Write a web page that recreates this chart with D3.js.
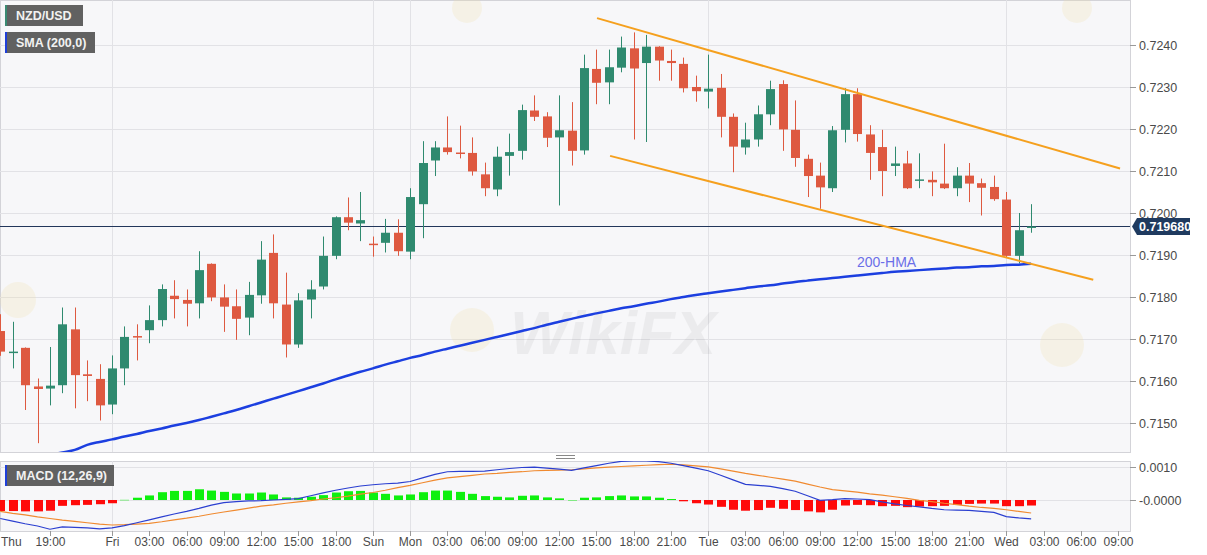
<!DOCTYPE html>
<html>
<head>
<meta charset="utf-8">
<script src="https://cdn.jsdelivr.net/npm/d3@7"></script>
<style>
  body { margin: 0; background: #fff; }
  svg { display: block; font-family: "Liberation Sans", Arial, sans-serif; }
</style>
</head>
<body>
<svg id="chart" width="1207" height="555"></svg>
<script>
// NZD/USD HOURLY CANDLES, 200 SMA, CHANNEL AND MACD

// bar index: 0 = Fri 00:00, negatives are Thu afternoon
var firstIdx = -9;

var opens = [0.71719,0.71668,0.71679,0.71587,0.71582,0.71590,0.71723,0.71616,0.71605,
  0.71544,0.71630,0.71707,0.71721,0.71745,0.71803,0.71793,0.71785,0.71879,0.71799,0.71778,
  0.71751,0.71804,0.71905,0.71782,0.71687,0.71794,0.71825,0.71898,0.71990,0.71975,0.71927,
  0.71929,0.71953,0.71908,0.72021,0.72125,0.72156,0.72144,0.72143,0.72092,0.72056,0.72136,
  0.72148,0.72244,0.72230,0.72180,0.72196,0.72149,0.72343,0.72311,0.72346,0.72392,0.72357,
  0.72396,0.72362,0.72355,0.72300,0.72289,0.72298,0.72229,0.72156,0.72175,0.72235,0.72307,
  0.72198,0.72129,0.72089,0.72059,0.72198,0.72283,0.72187,0.72157,0.72112,0.72118,0.72078,
  0.72079,0.72070,0.72059,0.72089,0.72071,0.72062,0.72032,0.71898,0.71965];
var highs = [0.71759,0.71741,0.71680,0.71606,0.71681,0.71775,0.71775,0.71649,0.71640,
  0.71661,0.71730,0.71735,0.71780,0.71830,0.71840,0.71818,0.71909,0.71880,0.71830,0.71818,
  0.71836,0.71933,0.71949,0.71858,0.71809,0.71840,0.71944,0.71992,0.72037,0.72050,0.71944,
  0.71986,0.71985,0.72059,0.72171,0.72171,0.72230,0.72208,0.72180,0.72120,0.72158,0.72189,
  0.72258,0.72280,0.72240,0.72280,0.72264,0.72377,0.72389,0.72389,0.72420,0.72430,0.72424,
  0.72397,0.72389,0.72370,0.72327,0.72377,0.72331,0.72237,0.72215,0.72256,0.72315,0.72316,
  0.72268,0.72139,0.72120,0.72207,0.72297,0.72297,0.72209,0.72198,0.72158,0.72148,0.72142,
  0.72099,0.72165,0.72109,0.72119,0.72082,0.72089,0.72050,0.72000,0.72021];
var lows = [0.71660,0.71630,0.71531,0.71452,0.71542,0.71571,0.71535,0.71552,0.71506,
  0.71521,0.71590,0.71649,0.71690,0.71730,0.71749,0.71730,0.71749,0.71790,0.71717,0.71698,
  0.71709,0.71784,0.71749,0.71656,0.71679,0.71749,0.71818,0.71890,0.71959,0.71933,0.71896,
  0.71906,0.71898,0.71890,0.71940,0.72088,0.72139,0.72130,0.72089,0.72040,0.72040,0.72089,
  0.72127,0.72219,0.72157,0.72018,0.72113,0.72139,0.72259,0.72259,0.72335,0.72175,0.72169,
  0.72315,0.72315,0.72287,0.72265,0.72249,0.72180,0.72097,0.72139,0.72158,0.72209,0.72148,
  0.72110,0.72038,0.72010,0.72050,0.72168,0.72170,0.72079,0.72040,0.72088,0.72057,0.72059,
  0.72040,0.72057,0.72040,0.72026,0.71994,0.72029,0.71894,0.71880,0.71953];
var closes = [0.71670,0.71670,0.71590,0.71581,0.71589,0.71735,0.71614,0.71612,0.71542,
  0.71630,0.71705,0.71705,0.71745,0.71819,0.71795,0.71784,0.71864,0.71799,0.71777,0.71748,
  0.71805,0.71889,0.71785,0.71687,0.71792,0.71818,0.71898,0.71990,0.71977,0.71983,0.71925,
  0.71953,0.71909,0.72038,0.72119,0.72156,0.72145,0.72142,0.72099,0.72059,0.72134,0.72145,
  0.72245,0.72229,0.72179,0.72197,0.72148,0.72345,0.72310,0.72347,0.72394,0.72344,0.72396,
  0.72363,0.72357,0.72297,0.72290,0.72296,0.72229,0.72158,0.72175,0.72235,0.72295,0.72199,
  0.72131,0.72088,0.72061,0.72197,0.72283,0.72188,0.72143,0.72100,0.72118,0.72059,0.72080,
  0.72073,0.72059,0.72089,0.72070,0.72060,0.72033,0.71898,0.71959,0.71968];

// 200 SMA (labelled 200-HMA on the chart)
var sma200 = [0.71400,0.71406,0.71412,0.71418,0.71424,0.71430,0.71436,0.71448,0.71455,
  0.71461,0.71468,0.71474,0.71481,0.71487,0.71494,0.71500,0.71507,0.71515,0.71523,0.71531,
  0.71540,0.71549,0.71558,0.71567,0.71576,0.71585,0.71594,0.71604,0.71613,0.71622,0.71630,
  0.71639,0.71647,0.71655,0.71662,0.71670,0.71677,0.71684,0.71691,0.71698,0.71705,0.71712,
  0.71719,0.71726,0.71734,0.71741,0.71748,0.71755,0.71761,0.71767,0.71773,0.71778,0.71784,
  0.71789,0.71795,0.71800,0.71805,0.71809,0.71813,0.71817,0.71821,0.71825,0.71828,0.71832,
  0.71836,0.71839,0.71842,0.71845,0.71848,0.71851,0.71854,0.71857,0.71860,0.71862,0.71864,
  0.71866,0.71868,0.71870,0.71871,0.71873,0.71874,0.71876,0.71877,0.71879];

// MACD (12,26,9)
var macdLine = [-0.00057,-0.00065,-0.00073,-0.00080,-0.00090,-0.00083,-0.00084,-0.00086,-0.00089,
  -0.00086,-0.00079,-0.00070,-0.00061,-0.00052,-0.00043,-0.00035,-0.00026,-0.00016,-0.00008,-0.00005,
  -0.00003,-0.00002,0.00000,0.00002,0.00004,0.00013,0.00022,0.00030,0.00037,0.00043,0.00047,
  0.00050,0.00052,0.00057,0.00068,0.00079,0.00087,0.00088,0.00088,0.00089,0.00093,0.00097,
  0.00100,0.00101,0.00098,0.00095,0.00091,0.00099,0.00106,0.00113,0.00119,0.00120,0.00120,
  0.00118,0.00113,0.00106,0.00098,0.00090,0.00076,0.00062,0.00048,0.00045,0.00042,0.00035,
  0.00027,0.00013,-0.00001,0.00001,0.00004,0.00003,0.00001,-0.00006,-0.00012,-0.00017,-0.00021,
  -0.00026,-0.00030,-0.00031,-0.00032,-0.00035,-0.00038,-0.00051,-0.00055,-0.00058];
var signalLine = [-0.00035,-0.00041,-0.00046,-0.00052,-0.00057,-0.00062,-0.00066,-0.00070,-0.00074,
  -0.00077,-0.00076,-0.00074,-0.00072,-0.00067,-0.00061,-0.00056,-0.00050,-0.00043,-0.00037,-0.00031,
  -0.00025,-0.00019,-0.00015,-0.00010,-0.00006,-0.00002,0.00003,0.00007,0.00012,0.00018,0.00023,
  0.00030,0.00038,0.00045,0.00053,0.00061,0.00068,0.00072,0.00076,0.00080,0.00082,0.00085,
  0.00087,0.00090,0.00091,0.00092,0.00093,0.00096,0.00099,0.00101,0.00103,0.00105,0.00107,
  0.00109,0.00110,0.00108,0.00105,0.00102,0.00096,0.00089,0.00082,0.00076,0.00070,0.00064,
  0.00058,0.00049,0.00040,0.00032,0.00028,0.00024,0.00019,0.00015,0.00010,0.00005,-0.00001,
  -0.00005,-0.00010,-0.00014,-0.00019,-0.00023,-0.00026,-0.00030,-0.00035,-0.00040];
var macdHist = [-0.00034,-0.00034,-0.00035,-0.00035,-0.00033,-0.00018,-0.00016,-0.00015,-0.00013,
  -0.00010,0.00001,0.00007,0.00014,0.00024,0.00028,0.00028,0.00033,0.00029,0.00025,0.00020,
  0.00020,0.00023,0.00017,0.00008,0.00007,0.00010,0.00015,0.00023,0.00027,0.00028,0.00023,
  0.00019,0.00014,0.00017,0.00024,0.00029,0.00029,0.00025,0.00019,0.00012,0.00010,0.00008,
  0.00013,0.00014,0.00008,0.00005,0.00000,0.00007,0.00008,0.00012,0.00014,0.00011,0.00011,
  0.00007,0.00003,-0.00004,-0.00010,-0.00014,-0.00021,-0.00030,-0.00033,-0.00031,-0.00024,-0.00027,
  -0.00031,-0.00035,-0.00038,-0.00030,-0.00017,-0.00015,-0.00016,-0.00019,-0.00018,-0.00022,-0.00020,
  -0.00019,-0.00018,-0.00015,-0.00012,-0.00011,-0.00011,-0.00019,-0.00019,-0.00017];

var lastPrice = 0.71968;

// falling channel, [bar index, price]
var channelUpper = [[39.05, 0.72464], [81.16, 0.72106]];
var channelLower = [[40.1, 0.72136], [79.0, 0.71841]];

// axis ticks
var priceTicks = [0.7150,0.7160,0.7170,0.7180,0.7190,0.7200,0.7210,0.7220,0.7230,0.7240];
var macdTicks = [0, 0.0010];
var timeIdx = [-9,-5,0,3,6,9,12,15,18,21,24,27,30,33,36,39,42,45,48,51,54,57,60,63,66,69,72,75,78,81];
var timeLbl = ["Thu","19:00","Fri","03:00","06:00","09:00","12:00","15:00","18:00","Sun","Mon",
  "03:00","06:00","09:00","12:00","15:00","18:00","21:00","Tue","03:00","06:00","09:00","12:00",
  "15:00","18:00","21:00","Wed","03:00","06:00","09:00"];
var dayIdx = [0, 21, 24, 48, 72];

// LAYOUT
var plotR = 1130;
var mainTop = 0, mainBot = 452;
var macdTop = 461, macdBot = 531;

var bars = opens.map(function(o, i) {
  return {idx: firstIdx + i, o: o, h: highs[i], l: lows[i], c: closes[i],
          sma: sma200[i], macd: macdLine[i], sig: signalLine[i], hist: macdHist[i]};
});

var x = d3.scaleLinear().domain([-9.02, 81.96]).range([0, plotR]);
var y = d3.scaleLinear().domain([0.71431, 0.725071]).range([mainBot, mainTop]);
var ym = d3.scaleLinear().domain([-0.000954, 0.0012]).range([macdBot, macdTop]);

var svg = d3.select("#chart");

var defs = svg.append("defs");
defs.append("clipPath").attr("id", "clipMain")
  .append("rect").attr("x", 0).attr("y", mainTop).attr("width", plotR).attr("height", mainBot - mainTop);
defs.append("clipPath").attr("id", "clipMacd")
  .append("rect").attr("x", 0).attr("y", macdTop).attr("width", plotR).attr("height", macdBot - macdTop);

// panel backgrounds
svg.append("rect").attr("x", 0.5).attr("y", mainTop + 0.5).attr("width", plotR).attr("height", mainBot - mainTop)
  .attr("fill", "#f7f7f9").attr("stroke", "#d3d3d8");
svg.append("rect").attr("x", 0.5).attr("y", macdTop + 0.5).attr("width", plotR).attr("height", macdBot - macdTop)
  .attr("fill", "#f7f7f9").attr("stroke", "#d3d3d8");

// GRID
var grid = svg.append("g").attr("stroke", "#e2e2e6").attr("stroke-width", 1);
grid.selectAll(".hg").data(priceTicks).enter().append("line")
  .attr("x1", 0).attr("x2", plotR)
  .attr("y1", function(d) { return Math.round(y(d)) + 0.5; })
  .attr("y2", function(d) { return Math.round(y(d)) + 0.5; });
grid.selectAll(".mg").data(macdTicks).enter().append("line")
  .attr("x1", 0).attr("x2", plotR)
  .attr("y1", function(d) { return Math.round(ym(d)) + 0.5; })
  .attr("y2", function(d) { return Math.round(ym(d)) + 0.5; });
dayIdx.forEach(function(d) {
  var xx = Math.round(x(d)) + 0.5;
  grid.append("line").attr("x1", xx).attr("x2", xx).attr("y1", mainTop).attr("y2", mainBot);
  grid.append("line").attr("x1", xx).attr("x2", xx).attr("y1", macdTop).attr("y2", macdBot);
});

// WATERMARKS (faint logos + one word mark)
var wm = svg.append("g").attr("clip-path", "url(#clipMain)").attr("pointer-events", "none");
[[450, 330, 44], [1040, 345, 44], [452, 8, 30], [1062, 8, 30], [0, 300, 36]].forEach(function(p) {
  wm.append("circle").attr("cx", p[0] + p[2] / 2).attr("cy", p[1]).attr("r", p[2] / 2)
    .attr("fill", "#f3dfa6").attr("opacity", 0.22);
});
wm.append("text").attr("x", 510).attr("y", 354).text("WikiFX")
  .attr("font-size", 62).attr("font-weight", "bold").attr("font-style", "italic")
  .attr("fill", "#000").attr("opacity", 0.045);

// LAST PRICE LINE
svg.append("line").attr("x1", 0).attr("x2", plotR)
  .attr("y1", Math.round(y(lastPrice)) + 0.5).attr("y2", Math.round(y(lastPrice)) + 0.5)
  .attr("stroke", "#22365a").attr("stroke-width", 1);

// CANDLES
var candleW = 9;
var cg = svg.append("g").attr("clip-path", "url(#clipMain)");
var candle = cg.selectAll(".candle").data(bars).enter().append("g");
candle.append("line")
  .attr("x1", function(d) { return Math.round(x(d.idx)) + 0.5; })
  .attr("x2", function(d) { return Math.round(x(d.idx)) + 0.5; })
  .attr("y1", function(d) { return y(d.h); })
  .attr("y2", function(d) { return y(d.l); })
  .attr("stroke", function(d) { return d.c >= d.o ? "#2f8a6f" : "#de5940"; });
candle.append("rect")
  .attr("x", function(d) { return Math.round(x(d.idx)) + 0.5 - candleW / 2; })
  .attr("width", candleW)
  .attr("y", function(d) { return y(Math.max(d.o, d.c)); })
  .attr("height", function(d) { return Math.max(1.5, Math.abs(y(d.o) - y(d.c))); })
  .attr("fill", function(d) { return d.c >= d.o ? "#2f8a6f" : "#de5940"; });

// 200 SMA
cg.append("path").datum(bars)
  .attr("d", d3.line().x(function(d) { return x(d.idx); }).y(function(d) { return y(d.sma); }).curve(d3.curveMonotoneX))
  .attr("fill", "none").attr("stroke", "#1c3fe0").attr("stroke-width", 2.5);

svg.append("text").attr("x", 857).attr("y", 267).text("200-HMA")
  .attr("font-size", 14).attr("fill", "#6b6ee8");

// CHANNEL
[channelUpper, channelLower].forEach(function(c) {
  cg.append("line")
    .attr("x1", x(c[0][0])).attr("y1", y(c[0][1]))
    .attr("x2", x(c[1][0])).attr("y2", y(c[1][1]))
    .attr("stroke", "#f5a01e").attr("stroke-width", 2);
});

// MACD PANEL
var mg = svg.append("g").attr("clip-path", "url(#clipMacd)");
mg.selectAll(".hist").data(bars).enter().append("rect")
  .attr("x", function(d) { return Math.round(x(d.idx)) + 0.5 - 4.5; })
  .attr("width", 9)
  .attr("y", function(d) { return d.hist >= 0 ? ym(d.hist) : ym(0); })
  .attr("height", function(d) { return Math.max(1, Math.abs(ym(d.hist) - ym(0))); })
  .attr("fill", function(d) { return d.hist >= 0 ? "#0ef00e" : "#ff0a0a"; })
  .attr("opacity", function(d) { return Math.abs(d.hist) < 0.00003 ? 0.45 : 1; });
mg.append("path").datum(bars)
  .attr("d", d3.line().x(function(d) { return x(d.idx); }).y(function(d) { return ym(d.sig); }))
  .attr("fill", "none").attr("stroke", "#f08a30").attr("stroke-width", 1.2);
mg.append("path").datum(bars)
  .attr("d", d3.line().x(function(d) { return x(d.idx); }).y(function(d) { return ym(d.macd); }))
  .attr("fill", "none").attr("stroke", "#2b3fd0").attr("stroke-width", 1.2);

// RIGHT AXES
var ax = svg.append("g").attr("fill", "#4a4a4a").attr("font-size", 12.5);
priceTicks.forEach(function(t) {
  var yy = Math.round(y(t)) + 0.5;
  ax.append("line").attr("x1", plotR).attr("x2", plotR + 6).attr("y1", yy).attr("y2", yy).attr("stroke", "#999");
  ax.append("text").attr("x", plotR + 9).attr("y", yy + 4.5).text(t.toFixed(4));
});
macdTicks.forEach(function(t) {
  var yy = Math.round(ym(t)) + 0.5;
  ax.append("line").attr("x1", plotR).attr("x2", plotR + 6).attr("y1", yy).attr("y2", yy).attr("stroke", "#999");
  ax.append("text").attr("x", plotR + 9).attr("y", yy + 4.5).text(t === 0 ? "-0.0000" : t.toFixed(4));
});

// last price tag
var ty = y(lastPrice);
svg.append("path")
  .attr("d", "M" + (plotR + 2) + "," + ty + " L" + (plotR + 7) + "," + (ty - 8.5) + " L" + (plotR + 60) + "," + (ty - 8.5) +
             " L" + (plotR + 60) + "," + (ty + 8.5) + " L" + (plotR + 7) + "," + (ty + 8.5) + " Z")
  .attr("fill", "#1f3a5f");
svg.append("text").attr("x", plotR + 9).attr("y", ty + 4.5).text(lastPrice.toFixed(6))
  .attr("font-size", 12.5).attr("font-weight", "bold").attr("fill", "#fff");

// TIME AXIS
var tx = svg.append("g").attr("fill", "#4a4a4a").attr("font-size", 12);
timeIdx.forEach(function(t, i) {
  var xx = Math.round(x(t)) + 0.5;
  if (i > 0) {
    tx.append("line").attr("x1", xx).attr("x2", xx).attr("y1", macdBot).attr("y2", macdBot + 5).attr("stroke", "#999");
  }
  tx.append("text").attr("x", i === 0 ? 1 : xx).attr("y", macdBot + 15)
    .attr("text-anchor", i === 0 ? "start" : "middle").text(timeLbl[i]);
});

// panel resize handle
svg.append("line").attr("x1", 556).attr("x2", 575).attr("y1", 455.5).attr("y2", 455.5).attr("stroke", "#888");
svg.append("line").attr("x1", 556).attr("x2", 575).attr("y1", 458.5).attr("y2", 458.5).attr("stroke", "#888");

// LEGEND BOXES
function tag(x0, y0, w, label, edge) {
  svg.append("rect").attr("x", x0).attr("y", y0).attr("width", w).attr("height", 21).attr("fill", "#616161");
  svg.append("rect").attr("x", x0).attr("y", y0).attr("width", 2).attr("height", 21).attr("fill", edge);
  svg.append("text").attr("x", x0 + 11).attr("y", y0 + 15).text(label)
    .attr("font-size", 12.5).attr("font-weight", "bold").attr("fill", "#f2f2f2");
}
tag(5, 5, 78, "NZD/USD", "#3a8a72");
tag(5, 32, 90, "SMA (200,0)", "#1f3fd8");
tag(5, 465, 109, "MACD (12,26,9)", "#1f3fd8");
</script>
</body>
</html>
